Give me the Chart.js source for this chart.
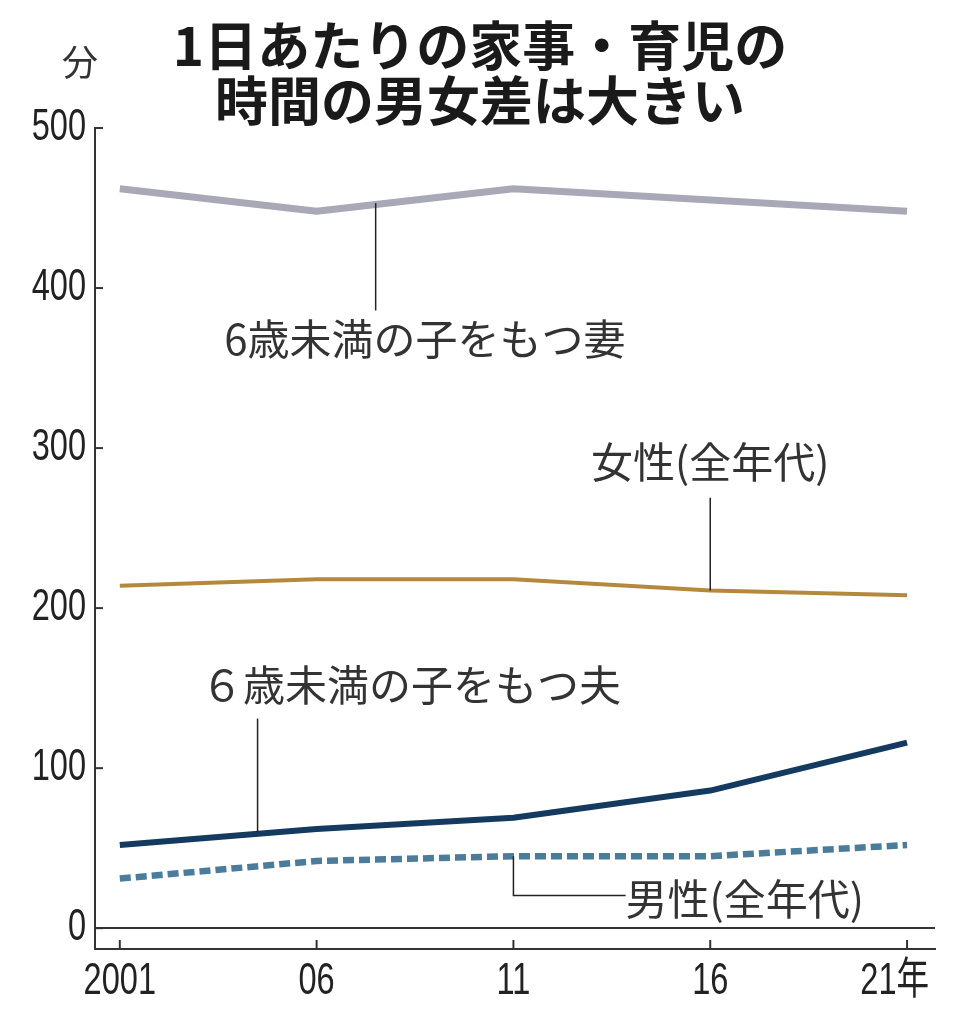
<!DOCTYPE html>
<html lang="ja">
<head>
  <meta charset="UTF-8">
  <title>1日あたりの家事・育児の時間の男女差は大きい</title>
  <script src="https://cdn.jsdelivr.net/npm/chart.js"></script>
  <style>
    html, body { margin: 0; padding: 0; background: #fff; }
    #wrap { width: 959px; height: 1024px; }
  </style>
</head>
<body>
  <div id="wrap"><canvas id="chart" width="959" height="1024"></canvas></div>

  <script>
    const years = [2001, 2006, 2011, 2016, 2021];
    const yearLabels = ["2001", "06", "11", "16", "21年"];
    const yTicks = [0, 100, 200, 300, 400, 500];

    const wives = [462, 448, 462, 455, 448];      // 6歳未満の子をもつ妻
    const women = [214, 218, 218, 211, 208];      // 女性(全年代)
    const husbands = [52, 62, 69, 86, 116];       // 6歳未満の子をもつ夫
    const men = [31, 42, 45, 45, 52];             // 男性(全年代)

    const titleLines = ["1日あたりの家事・育児の", "時間の男女差は大きい"];
    const unitLabel = "分";

    const JP = "'Noto Sans CJK JP', 'Noto Sans', sans-serif";
    const NUM = "'Liberation Sans', 'Noto Sans CJK JP', sans-serif";

    function pts(vals) {
      return years.map((y, i) => ({ x: y, y: vals[i] }));
    }

    // labels with leader lines, placed in data units
    const notes = [
      { text: "6歳未満の子をもつ妻", x: 2008.75, y: 368, lead: [[2007.5, 453], [2007.5, 386]] },
      { text: "女性(全年代)", x: 2016, y: 291, lead: [[2016, 269], [2016, 211]] },
      { text: "６歳未満の子をもつ夫", x: 2008.4, y: 152, lead: [[2004.5, 131], [2004.5, 60]] },
      { text: "男性(全年代)", x: 2013.85, y: 18, align: "left", lead: [[2011, 45], [2011, 20.5], [2013.85, 20.5]] }
    ];

    // condensed text, like the narrow face of the original
    function narrowText(ctx, s, x, y, align, squeeze) {
      ctx.save();
      ctx.translate(x, y);
      ctx.scale(squeeze, 1);
      ctx.textAlign = align;
      ctx.fillText(s, 0, 0);
      ctx.restore();
    }

    const decor = {
      id: "decor",
      afterDraw(chart) {
        const ctx = chart.ctx;
        const xs = chart.scales.x, ys = chart.scales.y;
        ctx.save();

        // title
        ctx.fillStyle = "#1a1a1a";
        ctx.textBaseline = "middle";
        ctx.font = "bold 53px " + JP;
        narrowText(ctx, titleLines[0], 480, 46, "center", 1);
        narrowText(ctx, titleLines[1], 480, 101, "center", 1);

        ctx.font = "36px " + JP;
        ctx.fillStyle = "#333";
        narrowText(ctx, unitLabel, 80, 62, "center", 1);

        // tick labels
        ctx.font = "44px " + NUM;
        ctx.fillStyle = "#222";
        yTicks.forEach(v => {
          narrowText(ctx, String(v), 86, ys.getPixelForValue(v), "right", 0.74);
        });
        years.forEach((v, i) => {
          const last = i === years.length - 1;
          const px = xs.getPixelForValue(v);
          // the last label carries the 年 unit and ends just past its tick
          narrowText(ctx, yearLabels[i], last ? px + 22 : px, 982, last ? "right" : "center", 0.74);
        });

        // y ticks pointing inward
        ctx.strokeStyle = "#333";
        ctx.lineWidth = 2;
        yTicks.forEach(v => {
          const py = ys.getPixelForValue(v);
          ctx.beginPath();
          ctx.moveTo(xs.left, py);
          ctx.lineTo(xs.left + 8, py);
          ctx.stroke();
        });
        // x ticks pointing up from the axis
        years.forEach(v => {
          const px = xs.getPixelForValue(v);
          ctx.beginPath();
          ctx.moveTo(px, ys.bottom);
          ctx.lineTo(px, ys.bottom - 9);
          ctx.stroke();
        });

        // annotations
        ctx.lineWidth = 1.5;
        ctx.strokeStyle = "#222";
        notes.forEach(n => {
          ctx.beginPath();
          n.lead.forEach((p, i) => {
            const px = xs.getPixelForValue(p[0]), py = ys.getPixelForValue(p[1]);
            if (i === 0) ctx.moveTo(px, py); else ctx.lineTo(px, py);
          });
          ctx.stroke();
          ctx.font = "42px " + JP;
          ctx.fillStyle = "#333";
          ctx.textBaseline = "middle";
          narrowText(ctx, n.text, xs.getPixelForValue(n.x), ys.getPixelForValue(n.y), n.align || "center", 1);
        });
        ctx.restore();
      }
    };

    const ctx = document.getElementById("chart").getContext("2d");
    new Chart(ctx, {
      type: "line",
      data: {
        datasets: [
          { label: "6歳未満の子をもつ妻", data: pts(wives), borderColor: "#a9a8b6", borderWidth: 7 },
          { label: "女性(全年代)", data: pts(women), borderColor: "#b5893c", borderWidth: 4 },
          { label: "6歳未満の子をもつ夫", data: pts(husbands), borderColor: "#143a60", borderWidth: 6 },
          { label: "男性(全年代)", data: pts(men), borderColor: "#4b7c9b", borderWidth: 6.5, borderDash: [11, 5] }
        ]
      },
      options: {
        responsive: false,
        animation: false,
        elements: { point: { radius: 0 }, line: { tension: 0, borderCapStyle: "butt", borderJoinStyle: "round" } },
        layout: { padding: { top: 128, right: 24, left: 0, bottom: 0 } },
        plugins: { legend: { display: false }, tooltip: { enabled: false }, title: { display: false } },
        scales: {
          x: {
            type: "linear",
            min: 2000.37,
            max: 2021.71,
            afterBuildTicks(scale) { scale.ticks = years.map(v => ({ value: v })); },
            afterFit(scale) { scale.height = 75; },
            ticks: { display: false },
            grid: { display: false, drawTicks: false },
            border: { display: true, color: "#333", width: 2 }
          },
          y: {
            min: -13,
            max: 500,
            afterBuildTicks(scale) { scale.ticks = yTicks.map(v => ({ value: v })); },
            afterFit(scale) { scale.width = 95; },
            ticks: { display: false },
            grid: {
              drawTicks: false,
              color: c => (c.tick && c.tick.value === 0 ? "#333" : "rgba(0,0,0,0)"),
              lineWidth: 2
            },
            border: { display: true, color: "#333", width: 2 }
          }
        }
      },
      plugins: [decor]
    });
  </script>
</body>
</html>
